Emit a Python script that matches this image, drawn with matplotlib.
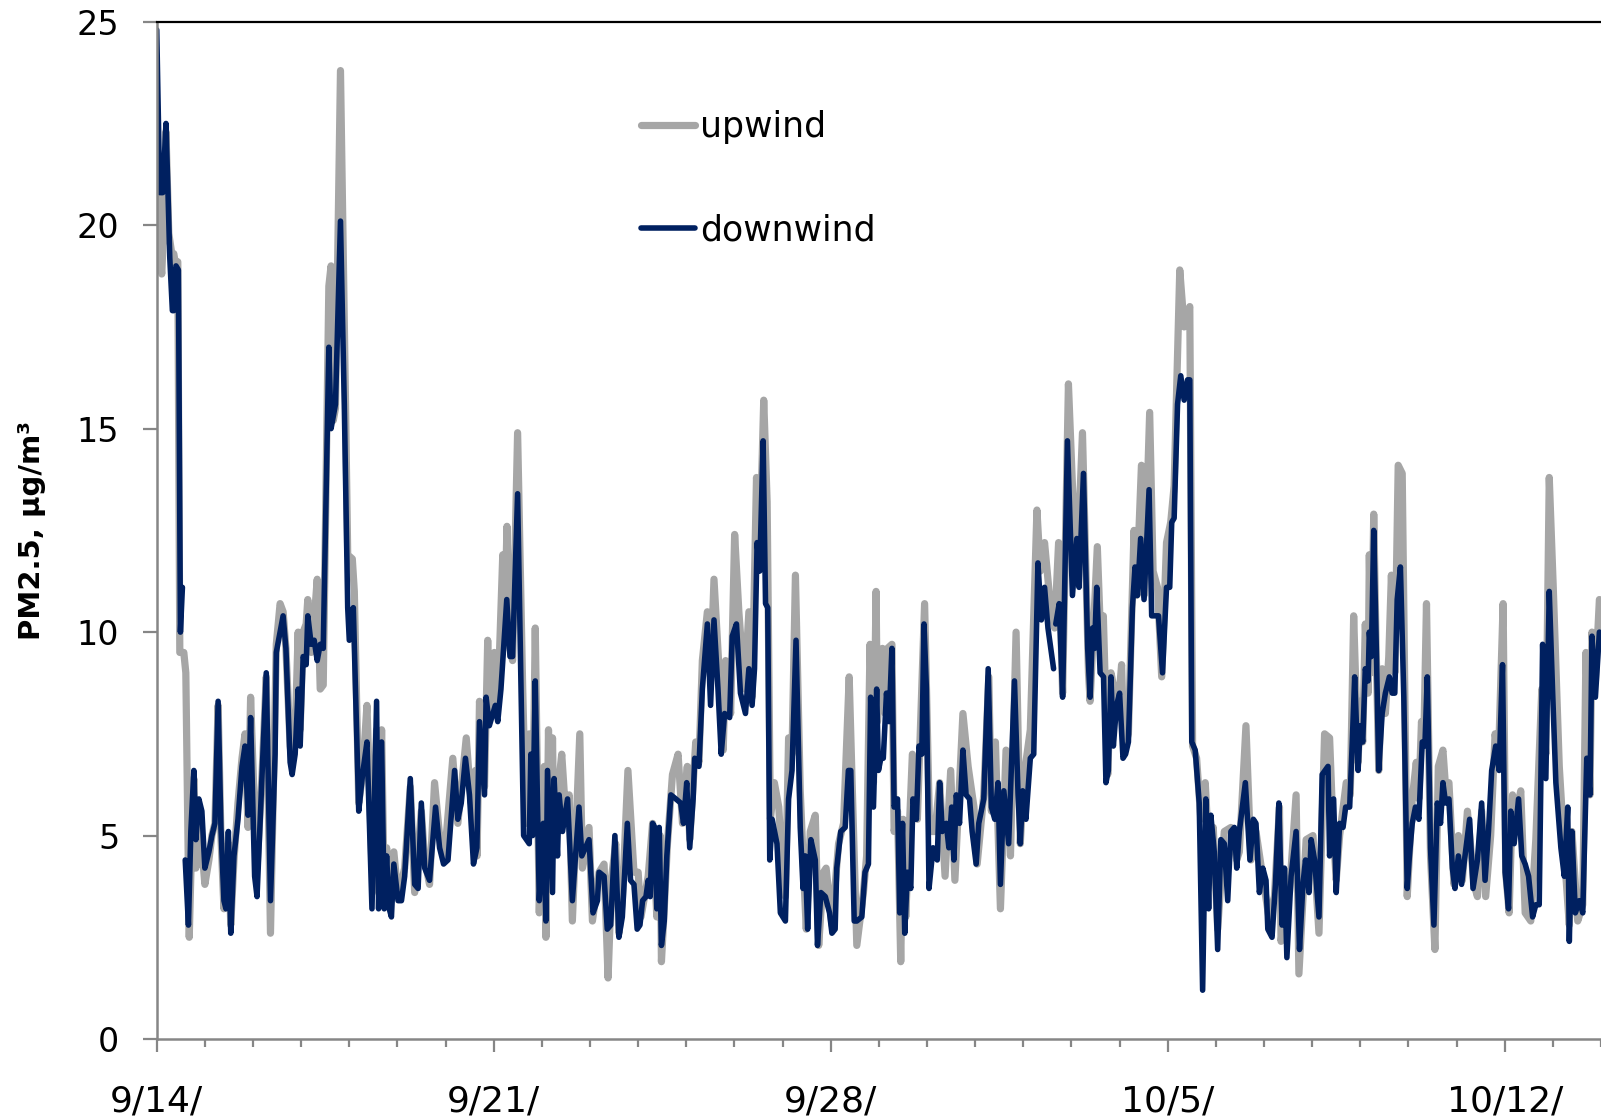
"""PM2.5 upwind vs downwind, hourly, 9/14 - 10/14 (Excel-style line chart)."""
import numpy as np
import matplotlib
matplotlib.use("Agg")
import matplotlib.pyplot as plt

# (hour since 9/14 00:00, PM2.5 ug/m3); nan = gap in the record
DOWNWIND = [
    (0, 24.8), (1.5, 20.8), (3, 20.8), (4.6, 22.5), (5.5, 21.0), (6.5, 19.2), (7.8, 17.9),
    (8.5, 17.9), (9.6, 19.0), (10.8, 18.9), (11.8, 10.0), (12.8, 11.1), (13.5, np.nan),
    (14.2, 4.4), (15.8, 2.8), (17.0, 5.1), (18.5, 6.6), (19.5, 4.9), (21.0, 5.9), (22.5, 5.6),
    (24.0, 4.2), (26.0, 4.6), (27.5, 5.0), (29.0, 5.3), (30.6, 8.3), (32.0, 5.2), (33.5, 3.4),
    (34.5, 3.2), (35.7, 5.1), (36.9, 2.6), (38.5, 4.5), (40.5, 5.4), (42.5, 6.7), (44.0, 7.2),
    (45.5, 5.5), (46.8, 7.9), (48.8, 4.0), (50.0, 3.5), (52.5, 6.5), (54.6, 9.0), (56.7, 3.4),
    (59.0, 7.0), (59.6, 9.5), (61.5, 10.0), (63.0, 10.4), (64.4, 9.6), (66.5, 6.8), (67.5, 6.5),
    (69.0, 7.0), (70.5, 8.6), (71.5, 7.2), (73.0, 9.4), (74.5, 9.2), (75.3, 10.4), (77.0, 9.7),
    (78.5, 9.8), (80.0, 9.3), (81.5, 9.7), (83.0, 9.6), (85.8, 17.0), (86.9, 15.0), (89.1, 15.6),
    (91.6, 20.1), (93.5, 15.6), (95.2, 10.6), (96.0, 9.8), (98.0, 10.6), (100.7, 5.6),
    (102.6, 6.5), (104.8, 7.3), (107.3, 3.2), (109.6, 8.3), (110.6, 3.2), (112.1, 7.3),
    (113.4, 3.2), (114.6, 4.5), (115.9, 3.2), (117.0, 3.0), (118.2, 4.3), (120.3, 3.4),
    (122.0, 3.4), (123.6, 4.0), (126.4, 6.4), (128.6, 3.8), (130.3, 3.7), (131.9, 5.8),
    (133.6, 4.2), (136.0, 3.9), (139.0, 5.7), (141.0, 4.7), (143.0, 4.3), (145.2, 4.4),
    (148.5, 6.6), (150.1, 5.4), (151.8, 5.8), (153.9, 6.9), (155.9, 6.0), (157.9, 4.3),
    (159.6, 4.7), (160.9, 7.8), (163.4, 6.0), (164.2, 8.4), (165.8, 7.7), (168.8, 8.2),
    (170.0, 7.8), (171.6, 8.6), (174.5, 10.8), (176.1, 9.4), (177.4, 9.4), (179.9, 13.4),
    (182.9, 5.0), (185.7, 4.8), (186.5, 7.0), (187.4, 5.0), (188.7, 8.8), (190.7, 3.4),
    (192.7, 5.3), (194.0, 2.9), (194.8, 6.6), (197.3, 3.6), (198.1, 6.4), (199.8, 4.5),
    (200.6, 6.0), (202.3, 5.1), (204.8, 5.9), (207.2, 3.4), (210.5, 5.7), (211.9, 4.5),
    (215.5, 4.9), (217.5, 3.1), (219.7, 3.4), (220.5, 4.1), (223.0, 4.0), (224.6, 2.7),
    (226.3, 2.8), (228.4, 5.0), (230.4, 2.5), (232.1, 3.0), (234.6, 5.3), (236.2, 3.9),
    (237.9, 3.8), (239.5, 2.7), (240.9, 2.8), (242.2, 3.4), (243.9, 3.5), (245.0, 3.9),
    (246.0, 3.5), (247.2, 5.3), (248.3, 5.2), (249.3, 3.2), (250.5, 5.2), (251.6, 2.3),
    (253.0, 2.9), (254.3, 4.5), (256.3, 6.0), (258.8, 5.9), (261.2, 5.8), (262.6, 5.3),
    (264.2, 6.3), (265.7, 4.7), (267.4, 5.9), (268.2, 6.9), (270.3, 6.7), (272.0, 8.6),
    (274.5, 10.2), (276.1, 8.2), (277.8, 10.3), (279.8, 8.6), (281.4, 7.0), (283.1, 8.0),
    (285.6, 7.9), (286.9, 9.9), (289.0, 10.2), (291.0, 8.5), (293.5, 8.0), (295.2, 9.1),
    (296.8, 8.2), (298.0, 9.1), (299.3, 12.2), (300.6, 11.5), (302.3, 14.7), (303.5, 10.7),
    (304.6, 10.6), (305.6, 4.4), (306.8, 5.4), (309.2, 4.8), (310.9, 3.1), (313.4, 2.9),
    (315.0, 5.9), (316.7, 6.6), (318.7, 9.8), (320.8, 5.2), (322.2, 3.7), (323.3, 4.5),
    (324.5, 2.7), (326.1, 4.9), (328.3, 4.4), (329.4, 2.3), (331.1, 3.6), (333.3, 3.5),
    (335.4, 3.1), (336.6, 2.6), (338.2, 2.7), (339.0, 4.2), (341.0, 5.1), (343.2, 5.2),
    (344.8, 6.6), (346.0, 6.6), (347.7, 2.9), (349.0, 2.9), (351.5, 3.0), (353.1, 4.1),
    (354.8, 4.3), (355.9, 8.4), (357.3, 5.7), (358.9, 8.6), (359.8, 6.6), (361.0, 6.9),
    (362.2, 6.9), (363.8, 8.5), (365.1, 7.8), (366.5, 9.6), (367.6, 5.7), (369.3, 5.9),
    (370.4, 3.1), (371.8, 5.3), (372.9, 2.6), (374.2, 4.1), (375.9, 3.7), (377.0, 5.9),
    (378.7, 5.4), (380.0, 7.2), (381.4, 7.0), (382.5, 10.2), (383.7, 8.6), (385.0, 3.7),
    (387.0, 4.7), (389.1, 4.4), (390.3, 6.3), (391.6, 5.1), (393.6, 5.3), (394.9, 4.7),
    (396.3, 5.7), (397.4, 4.4), (398.6, 6.0), (400.2, 5.3), (401.9, 7.1), (403.5, 6.0),
    (405.2, 5.9), (406.5, 5.1), (408.5, 4.3), (409.8, 5.3), (412.3, 5.9), (414.5, 9.1),
    (416.1, 5.7), (417.8, 5.4), (419.4, 6.3), (420.6, 3.8), (422.3, 6.1), (424.7, 4.8),
    (427.6, 8.8), (429.4, 6.0), (430.5, 4.8), (431.7, 6.1), (433.3, 5.4), (435.5, 6.9),
    (437.2, 7.0), (439.3, 11.7), (441.0, 10.3), (442.6, 11.1), (444.3, 10.1), (447.1, 9.1),
    (447.7, np.nan), (448.2, 10.2), (449.9, 10.7), (451.6, 8.4), (454.0, 14.7), (456.5, 10.9),
    (458.7, 12.3), (459.8, 11.1), (462.0, 13.9), (464.1, 9.6), (465.3, 8.4), (466.5, 10.1),
    (467.5, 9.6), (468.6, 11.1), (470.3, 9.0), (472.0, 8.9), (473.2, 6.3), (474.4, 6.6),
    (475.7, 8.9), (476.9, 7.2), (478.5, 8.2), (480.0, 8.5), (481.7, 6.9), (483.0, 7.0),
    (484.4, 7.3), (486.4, 10.6), (487.7, 11.6), (488.9, 10.9), (490.5, 12.3), (492.2, 10.8),
    (494.7, 13.5), (496.0, 10.4), (497.7, 10.4), (499.4, 10.4), (501.4, 9.0), (503.4, 11.1),
    (505.0, 11.1), (506.0, 12.7), (507.2, 12.8), (508.9, 15.6), (510.5, 16.3), (512.2, 15.7),
    (513.9, 16.2), (515.0, 16.2), (516.0, 7.3), (517.7, 7.1), (518.9, 6.3), (519.7, 5.8),
    (521.4, 1.2), (523.0, 5.9), (524.4, 3.2), (525.5, 5.5), (527.2, 4.6), (528.9, 2.2),
    (530.5, 4.9), (532.2, 4.8), (533.9, 3.4), (535.5, 5.1), (537.2, 5.2), (538.4, 4.2),
    (539.7, 5.1), (542.7, 6.3), (545.0, 4.4), (546.7, 5.4), (548.0, 5.3), (549.7, 3.6),
    (551.4, 4.2), (553.0, 3.9), (553.9, 2.7), (556.0, 2.5), (557.7, 3.8), (559.4, 5.8),
    (561.0, 2.8), (562.2, 4.2), (563.4, 2.0), (565.5, 4.0), (568.0, 5.1), (569.7, 2.2),
    (571.4, 3.8), (572.7, 4.4), (574.4, 3.6), (575.5, 4.9), (577.2, 4.4), (579.4, 3.0),
    (581.0, 6.5), (583.9, 6.7), (584.7, 4.5), (586.7, 5.9), (588.0, 3.6), (589.7, 5.3),
    (591.4, 5.2), (592.7, 5.7), (594.7, 5.7), (596.0, 7.3), (597.2, 8.9), (598.9, 6.6),
    (600.0, 7.7), (601.2, 7.3), (602.5, 9.1), (603.9, 8.8), (604.5, 10.0), (605.5, 9.4),
    (606.7, 12.5), (607.9, 9.8), (609.2, 6.6), (610.9, 8.0), (612.5, 8.5), (614.5, 8.9),
    (615.9, 8.5), (617.2, 8.5), (618.4, 10.8), (620.0, 11.6), (621.7, 8.4), (623.4, 3.7),
    (624.5, 4.5), (625.9, 5.3), (627.5, 5.7), (629.2, 5.4), (630.9, 7.3), (632.2, 7.2),
    (633.4, 8.9), (635.0, 4.7), (636.7, 2.8), (638.4, 5.8), (640.0, 5.3), (641.2, 6.3),
    (642.5, 5.8), (644.2, 5.9), (645.9, 4.2), (647.2, 3.7), (648.9, 4.5), (650.5, 3.8),
    (652.2, 4.5), (654.5, 5.4), (656.2, 3.7), (658.4, 4.4), (660.5, 5.8), (662.2, 3.9),
    (663.9, 5.1), (665.5, 6.6), (667.5, 7.2), (669.2, 6.6), (670.9, 9.2), (672.2, 4.1),
    (673.9, 3.2), (675.0, 5.6), (676.7, 4.8), (678.9, 5.9), (680.5, 4.5), (682.2, 4.3),
    (683.9, 4.0), (685.9, 3.0), (687.5, 3.3), (689.2, 3.3), (690.9, 9.7), (692.5, 6.4),
    (694.2, 11.0), (695.9, 8.5), (697.5, 6.3), (700.0, 4.7), (701.7, 4.0), (703.4, 5.7),
    (704.2, 2.4), (705.5, 5.1), (707.2, 3.1), (709.2, 3.4), (710.9, 3.1), (712.9, 6.9),
    (714.5, 6.0), (715.5, 9.9), (717.2, 8.4), (719.2, 10.0),
]

UPWIND = [
    (0, 21.0), (1.0, 19.5), (2.5, 18.8), (3.5, 20.0), (4.6, 22.3), (6.0, 19.8), (7.5, 19.3),
    (8.5, 19.3), (9.5, 19.0), (10.5, 19.1), (11.5, 9.5), (13.5, 9.5), (14.5, 9.0), (16.2, 2.5),
    (17.5, 5.0), (18.5, 6.4), (19.5, 4.2), (21.0, 5.7), (22.5, 4.7), (24.0, 3.8), (26.0, 4.4),
    (27.5, 5.0), (29.0, 5.3), (30.6, 8.2), (32.0, 5.0), (33.5, 3.2), (35.7, 4.8), (36.9, 2.8),
    (38.5, 4.4), (40.5, 5.8), (42.5, 6.9), (44.0, 7.5), (45.5, 5.2), (46.8, 8.4), (48.8, 5.5),
    (50.0, 4.2), (52.5, 6.5), (54.6, 8.9), (56.7, 2.6), (59.6, 9.7), (61.5, 10.7), (63.0, 10.5),
    (64.4, 9.6), (66.5, 7.2), (67.5, 6.8), (69.0, 7.5), (70.5, 10.0), (71.5, 7.6), (73.0, 10.0),
    (74.5, 10.2), (75.3, 10.8), (77.0, 9.5), (78.5, 10.3), (80.0, 11.3), (81.5, 8.6),
    (83.0, 8.7), (85.8, 18.5), (86.9, 19.0), (88.0, 15.2), (89.1, 15.5), (91.6, 23.8),
    (94.0, 16.0), (95.2, 11.9), (97.5, 11.8), (98.5, 11.0), (100.7, 5.8), (102.6, 6.5),
    (104.8, 8.2), (107.3, 4.2), (109.6, 7.6), (110.6, 3.6), (112.1, 7.6), (113.4, 3.6),
    (114.6, 4.7), (116.0, 3.5), (118.2, 4.6), (120.3, 3.5), (123.6, 4.2), (126.4, 6.2),
    (128.6, 3.6), (131.9, 5.6), (133.6, 4.4), (136.0, 3.8), (138.5, 6.3), (141.0, 5.0),
    (143.5, 4.5), (147.6, 6.9), (150.1, 5.3), (154.3, 7.4), (156.7, 5.8), (158.9, 6.6),
    (159.7, 4.5), (160.9, 8.3), (163.4, 6.2), (165.0, 9.8), (165.8, 8.0), (168.3, 9.5),
    (170.0, 8.2), (172.5, 11.9), (173.6, 10.5), (174.6, 12.6), (176.1, 9.6), (177.4, 9.3),
    (179.9, 14.9), (182.4, 8.7), (184.1, 5.3), (185.7, 7.5), (187.4, 5.3), (188.7, 10.1),
    (190.7, 3.1), (193.2, 6.7), (194.0, 2.5), (195.3, 7.6), (196.5, 4.0), (197.3, 7.4),
    (198.1, 4.5), (199.8, 6.0), (201.9, 7.0), (203.9, 5.5), (205.6, 6.0), (207.2, 2.9),
    (210.9, 7.5), (212.2, 4.2), (215.5, 5.2), (217.2, 2.9), (220.5, 4.1), (223.0, 4.3),
    (225.0, 1.5), (226.8, 4.0), (228.8, 4.8), (230.4, 2.6), (232.1, 3.4), (234.9, 6.6),
    (237.9, 4.1), (240.0, 4.1), (241.4, 3.0), (245.0, 4.0), (247.2, 5.3), (249.3, 3.0),
    (251.0, 5.0), (251.6, 1.9), (253.0, 3.2), (254.6, 4.8), (257.1, 6.5), (259.9, 7.0),
    (262.1, 5.3), (264.5, 6.7), (265.7, 4.9), (268.7, 7.3), (270.3, 6.8), (272.0, 9.3),
    (274.5, 10.5), (276.1, 8.9), (277.8, 11.3), (280.3, 9.1), (282.4, 7.1), (283.6, 9.3),
    (286.1, 8.0), (288.1, 12.4), (290.2, 10.5), (293.0, 8.6), (295.2, 10.5), (296.8, 8.4),
    (299.0, 13.8), (300.6, 12.0), (302.6, 15.7), (304.3, 13.2), (305.9, 5.4), (307.9, 6.3),
    (310.1, 5.7), (312.2, 3.9), (313.4, 3.5), (315.0, 7.4), (316.7, 7.0), (318.4, 11.4),
    (320.8, 6.1), (322.5, 4.1), (323.8, 2.7), (325.8, 5.1), (328.3, 5.5), (330.0, 2.3),
    (332.4, 4.1), (333.7, 4.2), (336.6, 2.8), (339.9, 4.8), (342.4, 5.3), (345.2, 8.9),
    (346.5, 6.6), (349.0, 2.3), (352.3, 3.6), (353.9, 4.5), (355.6, 9.7), (357.3, 6.3),
    (358.6, 11.0), (359.3, 7.8), (361.8, 9.6), (363.1, 8.0), (364.3, 9.6), (366.5, 9.7),
    (367.6, 5.1), (369.3, 5.6), (370.9, 1.9), (372.1, 5.4), (373.4, 3.0), (376.7, 7.0),
    (379.2, 5.4), (382.8, 10.7), (385.3, 5.1), (388.0, 5.1), (390.3, 6.3), (393.0, 4.0),
    (395.8, 6.6), (397.9, 3.9), (401.9, 8.0), (404.5, 6.7), (407.4, 5.7), (409.0, 4.3),
    (412.3, 6.0), (414.8, 8.9), (416.1, 5.6), (418.1, 7.3), (420.6, 3.2), (423.4, 7.1),
    (425.6, 4.5), (428.4, 10.0), (430.5, 4.8), (432.2, 6.4), (435.5, 7.6), (438.8, 13.0),
    (440.5, 11.5), (442.6, 12.2), (445.4, 10.7), (447.6, 10.1), (449.6, 12.2), (451.6, 8.5),
    (454.5, 16.1), (456.5, 13.6), (458.7, 11.4), (461.5, 14.9), (464.5, 9.0), (465.3, 8.3),
    (468.9, 12.1), (470.6, 9.8), (471.9, 10.4), (474.1, 6.5), (475.7, 9.0), (477.7, 8.5),
    (479.4, 8.2), (481.0, 9.2), (482.2, 7.1), (484.4, 7.5), (487.2, 12.5), (488.4, 10.9),
    (490.9, 14.1), (492.2, 10.9), (495.0, 15.4), (496.7, 11.5), (498.9, 11.1), (501.0, 8.9),
    (503.4, 12.2), (505.5, 12.7), (507.2, 13.6), (510.0, 18.9), (512.2, 17.5), (515.0, 18.0),
    (516.4, 7.2), (518.4, 6.9), (520.5, 5.4), (522.7, 6.3), (524.7, 4.4), (526.7, 5.2),
    (528.9, 2.7), (532.2, 5.1), (535.5, 5.2), (538.4, 4.4), (539.7, 4.6), (543.0, 7.7),
    (545.5, 4.4), (548.0, 5.1), (551.0, 4.1), (554.4, 3.0), (557.2, 3.5), (559.7, 5.7),
    (560.5, 2.4), (563.0, 3.5), (564.7, 3.6), (568.0, 6.0), (569.4, 1.6), (573.0, 4.9),
    (576.4, 5.0), (579.4, 2.6), (582.2, 7.5), (584.7, 7.4), (586.4, 5.2), (588.0, 3.9),
    (589.7, 5.0), (593.0, 6.3), (595.0, 6.0), (596.7, 10.4), (598.9, 6.8), (600.0, 8.3),
    (601.2, 7.3), (602.5, 10.2), (603.9, 8.5), (604.5, 11.9), (605.5, 9.0), (606.7, 12.9),
    (607.9, 9.6), (609.2, 6.6), (610.9, 9.1), (612.5, 8.0), (614.2, 9.4), (615.5, 11.4),
    (617.2, 9.0), (618.9, 14.1), (620.9, 13.9), (623.4, 3.5), (625.9, 5.9), (627.9, 6.8),
    (629.2, 5.9), (630.5, 7.8), (631.7, 7.4), (633.0, 10.7), (635.0, 4.5), (637.2, 2.2),
    (638.9, 6.7), (641.2, 7.1), (642.5, 6.2), (644.2, 6.3), (646.7, 3.8), (648.9, 5.0),
    (650.9, 3.9), (653.4, 5.6), (656.7, 3.8), (658.4, 3.5), (660.5, 5.6), (662.5, 3.5),
    (665.0, 5.0), (667.2, 7.5), (668.9, 6.9), (671.2, 10.7), (672.5, 4.1), (674.2, 3.1),
    (675.9, 6.0), (677.5, 5.5), (680.0, 6.1), (682.2, 3.1), (685.0, 2.9), (687.5, 4.9),
    (690.5, 8.6), (692.5, 7.0), (694.2, 13.8), (696.2, 11.1), (699.2, 6.7), (702.5, 4.0),
    (704.2, 2.8), (705.5, 5.1), (708.4, 2.9), (710.9, 3.3), (712.5, 9.5), (714.5, 6.0),
    (715.5, 10.0), (717.2, 8.8), (719.2, 10.8),
]

TICK_DAYS = [0, 7, 14, 21, 28]
TICK_LABELS = ["9/14/", "9/21/", "9/28/", "10/5/", "10/12/"]
N_DAYS = 30

GRAY = "#a6a6a6"
NAVY = "#002060"
AXIS = "#868686"

fig = plt.figure(figsize=(16.01, 11.2), dpi=100)
ax = fig.add_axes([0.0979, 0.0723, 0.9021, 0.9083])

up = np.array(UPWIND, dtype=float)
dn = np.array(DOWNWIND, dtype=float)
style = dict(solid_joinstyle="round", solid_capstyle="round")
ax.plot(up[:, 0] / 24, up[:, 1], color=GRAY, lw=5.2, label="upwind", **style)
ax.plot(dn[:, 0] / 24, dn[:, 1], color=NAVY, lw=4.0, label="downwind", **style)

ax.set_xlim(0, N_DAYS)
ax.set_ylim(0, 25)
ax.set_yticks(range(0, 26, 5))
ax.set_xticks(TICK_DAYS)
ax.set_xticklabels(TICK_LABELS)
ax.set_xticks(range(N_DAYS + 1), minor=True)

for side in ("left", "bottom"):
    ax.spines[side].set_color(AXIS)
    ax.spines[side].set_linewidth(1.8)
ax.spines["top"].set_color("black")
ax.spines["top"].set_linewidth(1.6)
ax.spines["right"].set_visible(False)

ax.tick_params(axis="y", direction="out", length=10, width=1.6, color=AXIS,
               labelsize=24, pad=17)
ax.tick_params(axis="x", which="major", direction="out", length=9, width=1.6, color=AXIS,
               labelsize=26, pad=24)
ax.tick_params(axis="x", which="minor", direction="out", length=6, width=1.6, color=AXIS)

ax.set_ylabel("PM2.5, µg/m³", fontsize=21, fontweight="bold")
ax.yaxis.set_label_coords(-0.077, 0.5)

ax.legend(loc="upper left", bbox_to_anchor=(0.3353, 0.9135), frameon=False, fontsize=25,
          handlelength=1.55, handletextpad=0.15, labelspacing=2.0, borderpad=0,
          borderaxespad=0)

fig.savefig("out.png", dpi=100)
